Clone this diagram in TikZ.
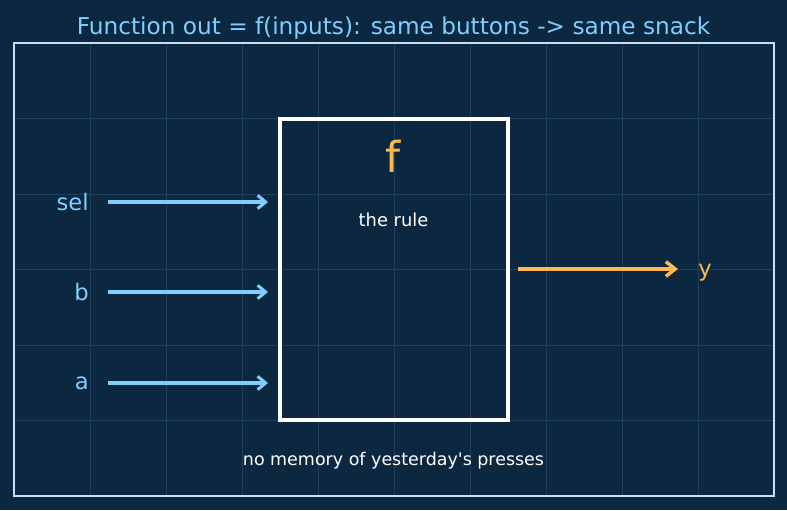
\documentclass[tikz,border=0pt]{standalone}
\usepackage{fontspec}
\setmainfont{DejaVu Sans}
\usepackage{tikz}
\usetikzlibrary{arrows.meta}
\definecolor{bgblue}{HTML}{0C2740}
\definecolor{gridline}{HTML}{213F5A}
\definecolor{framecol}{HTML}{C6E0F2}
\definecolor{skyblue}{HTML}{7ECFFF}
\definecolor{snack}{HTML}{FFB84D}
\tikzstyle{inlabel}=[anchor=east, inner sep=0pt, text=skyblue, font=\fontsize{17}{20}\selectfont]
\tikzstyle{inarrow}=[draw=skyblue, line width=2.3pt, -{Straight Barb[length=6pt, width=10pt, line width=2.3pt]}, shorten <=14pt, shorten >=9pt]
\tikzstyle{outarrow}=[draw=snack, line width=2.6pt, -{Straight Barb[length=7pt, width=11pt, line width=2.6pt]}, shorten <=7.5pt, shorten >=15pt]

\begin{document}
\begin{tikzpicture}[x=0.75pt, y=-0.75pt]
				\fill[bgblue] (0,0) rectangle (787,510);
				\useasboundingbox (0,0) rectangle (787,510);
				% grid behind everything
				\foreach \i in {0,...,8} {
					\draw[gridline, line width=0.6pt] (90+76*\i,43) -- (90+76*\i,496);
				}
				\foreach \j in {1,...,5} {
					\draw[gridline, line width=0.6pt] (14,43+75.5*\j) -- (774,43+75.5*\j);
				}
				\draw[framecol, line width=1.5pt] (14,43) rectangle (774,496);
				\node[text=skyblue, font=\fontsize{17.4}{20}\selectfont] (title) at (393.5,28) {Function out = f(inputs): same buttons -> same snack};

				\draw[white, line width=2.4pt] (280,119) rectangle (508,420);
				\coordinate (box-w) at (280,270);
				\coordinate (box-e) at (508,269);
				\node[text=snack, font=\fontsize{32}{36}\selectfont] (f) at (393.5,156) {f};
				\node[text=white, font=\fontsize{13.4}{16}\selectfont] (rule) at (393.5,220) {the rule};
				\node[text=white, font=\fontsize{13.1}{16}\selectfont] (memo) at (393.5,461) {no memory of yesterday\textquotesingle s presses};

				\node[inlabel] (sel) at (89,202) {sel};
				\node[inlabel] (b) at (89,292) {b};
				\node[inlabel] (a) at (89,383) {a};
				\node[anchor=west, inner sep=0pt, text=snack, font=\fontsize{17}{20}\selectfont] (y) at (698,273) {y};

				\foreach \n in {sel,b,a} {
					\draw[inarrow] (\n.east) -- (\n.east -| box-w);
				}
				\draw[outarrow] (box-e) -- (box-e -| y.west);
			\end{tikzpicture}
\end{document}
